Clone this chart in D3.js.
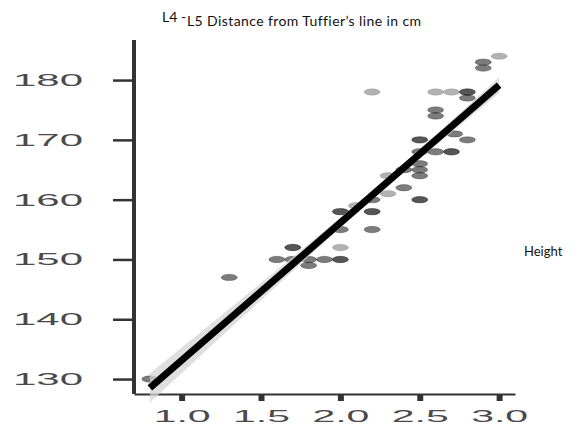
<!DOCTYPE html>
<html>
<head>
<meta charset="utf-8">
<script src="https://cdn.jsdelivr.net/npm/d3@7"></script>
<style>
body { margin: 0; background: #fff; }
text { font-variant-ligatures: none; }
</style>
</head>
<body>
<script>
// distance from Tuffier's line (cm) vs height, count = overlapping observations
var distance = [3.0, 2.2, 2.6, 2.7, 2.3, 2.1, 2.0, 2.3,
	2.9, 2.9, 2.8, 2.6, 2.6, 2.72, 2.8, 2.5, 2.6, 2.5, 2.5, 2.5, 2.4, 2.4, 2.2, 2.0, 2.2, 1.9, 1.8, 1.7, 1.6, 1.8, 1.3, 0.8,
	2.8, 2.5, 2.7, 2.5, 2.0, 2.2, 2.0, 1.7];
var height = [184, 178, 178, 178, 161, 159, 152, 164,
	183, 182, 177, 175, 174, 171, 170, 168, 168, 166, 165, 164, 162, 165, 160, 155, 155, 150, 150, 150, 150, 149, 147, 130,
	178, 170, 168, 160, 158, 158, 150, 152];
var count = [1, 1, 1, 1, 1, 1, 1, 1,
	2, 2, 2, 2, 2, 2, 2, 2, 2, 2, 2, 2, 2, 2, 2, 2, 2, 2, 2, 2, 2, 2, 2, 2,
	3, 3, 3, 3, 3, 3, 3, 3];
var xTicks = [1.0, 1.5, 2.0, 2.5, 3.0];
var yTicks = [130, 140, 150, 160, 170, 180];

var width = 580, h = 425;
var svg = d3.select("body").append("svg")
	.attr("width", width)
	.attr("height", h);

var x = d3.scaleLinear().domain([0.7, 3.1]).range([134, 515]);
var y = d3.scaleLinear().domain([127.5, 186.7]).range([394, 40]);

// weighted least squares fit
var n = 0, sx = 0, sy = 0;
for (var i = 0; i < distance.length; i++) {
	n += count[i]; sx += count[i]*distance[i]; sy += count[i]*height[i];
}
var xbar = sx/n, ybar = sy/n;
var sxx = 0, sxy = 0;
for (var i = 0; i < distance.length; i++) {
	sxx += count[i]*(distance[i]-xbar)*(distance[i]-xbar);
	sxy += count[i]*(distance[i]-xbar)*(height[i]-ybar);
}
var slope = sxy/sxx;
var intercept = ybar - slope*xbar;
var sse = 0;
for (var i = 0; i < distance.length; i++) {
	var r = height[i] - (intercept + slope*distance[i]);
	sse += count[i]*r*r;
}
var s = Math.sqrt(sse/(n-2));
var xmin = d3.min(distance), xmax = d3.max(distance);
var band = d3.range(0, 41).map(function(k){
	var xv = xmin + (xmax-xmin)*k/40;
	var fit = intercept + slope*xv;
	var se = s*Math.sqrt(1/n + (xv-xbar)*(xv-xbar)/sxx);
	return {x: xv, lo: fit - 1.5*se, hi: fit + 1.5*se};
});

// axes
var yAxis = svg.append("g")
	.attr("transform", "translate(134,0)")
	.call(d3.axisLeft(y).tickValues(yTicks).tickSize(21).tickPadding(30).tickSizeOuter(0));
yAxis.select(".domain").attr("stroke", "#333").attr("stroke-width", 4)
	.attr("d", "M0," + 40 + "V" + 394);
yAxis.selectAll(".tick line").attr("stroke", "#333").attr("stroke-width", 2.5);
yAxis.selectAll(".tick text")
	.attr("font-family", "Liberation Sans, Arial, sans-serif")
	.attr("font-size", 17)
	.attr("fill", "#4a4a4a")
	.attr("textLength", 70)
	.attr("lengthAdjust", "spacingAndGlyphs");

var xAxis = svg.append("g")
	.attr("transform", "translate(0,394)")
	.call(d3.axisBottom(x).tickValues(xTicks).tickSize(7).tickPadding(9).tickSizeOuter(0)
		.tickFormat(d3.format(".1f")));
xAxis.select(".domain").attr("stroke", "#333").attr("stroke-width", 2);
xAxis.selectAll(".tick line").attr("stroke", "#333").attr("stroke-width", 6);
xAxis.selectAll(".tick text")
	.attr("font-family", "Liberation Sans, Arial, sans-serif")
	.attr("font-size", 17)
	.attr("fill", "#4a4a4a")
	.attr("textLength", 57)
	.attr("lengthAdjust", "spacingAndGlyphs");

// points, drawn once per observation so overlaps darken
var pts = [];
for (var i = 0; i < distance.length; i++) {
	for (var c = 0; c < count[i]; c++) pts.push({x: distance[i], y: height[i]});
}
svg.append("g").selectAll("ellipse")
	.data(pts)
	.enter()
	.append("ellipse")
	.attr("cx", function(d){ return x(d.x); })
	.attr("cy", function(d){ return y(d.y); })
	.attr("rx", 8)
	.attr("ry", 3.2)
	.attr("fill", "#000")
	.attr("fill-opacity", 0.3)
	.attr("stroke", "#000")
	.attr("stroke-opacity", 0.12)
	.attr("stroke-width", 1);

// confidence band and fit
svg.append("path")
	.datum(band)
	.attr("fill", "#d4d4d4")
	.attr("fill-opacity", 0.75)
	.attr("d", d3.area()
		.x(function(d){ return x(d.x); })
		.y0(function(d){ return y(d.lo); })
		.y1(function(d){ return y(d.hi); }));

svg.append("line")
	.attr("x1", x(xmin))
	.attr("y1", y(intercept + slope*xmin))
	.attr("x2", x(xmax))
	.attr("y2", y(intercept + slope*xmax))
	.attr("stroke", "#000")
	.attr("stroke-width", 7);

// titles
svg.append("text")
	.attr("x", 162).attr("y", 22)
	.attr("font-family", "Lato, sans-serif")
	.attr("font-size", 14)
	.attr("fill", "#111")
	.text("L4 -");
svg.append("text")
	.attr("x", 187).attr("y", 26)
	.attr("font-family", "Lato, sans-serif")
	.attr("font-size", 14)
	.attr("fill", "#111")
	.attr("textLength", 234)
	.text("L5 Distance from Tuffier\u2019s line in cm");
svg.append("text")
	.attr("x", 524).attr("y", 256)
	.attr("font-family", "Lato, sans-serif")
	.attr("font-size", 13)
	.attr("fill", "#111")
	.text("Height");
</script>
</body>
</html>
